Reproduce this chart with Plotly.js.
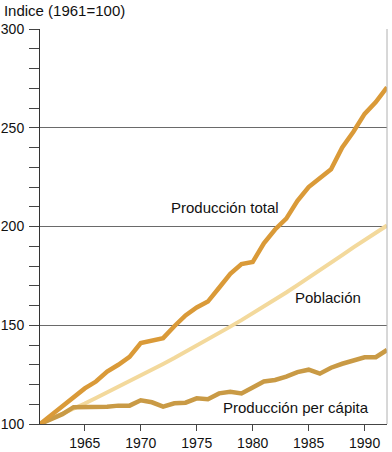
<!DOCTYPE html>
<html>
<head>
<meta charset="utf-8">
<script src="https://cdn.plot.ly/plotly-3.0.1.min.js"></script>
<style>html,body{margin:0;padding:0;background:#fff;}#chart{width:392px;height:452px;}</style>
</head>
<body>
<div id="chart"></div>
<script>
const years = [1961,1962,1963,1964,1965,1966,1967,1968,1969,1970,1971,1972,1973,1974,1975,1976,1977,1978,1979,1980,1981,1982,1983,1984,1985,1986,1987,1988,1989,1990,1991,1992];
const produccionTotal = [100,104.5,109.5,114,118,121.5,126.5,130,134,141,142.5,143.5,149.5,155,159,162,169,176,181,182,191.5,198.5,204,213,220,224.5,229,240,248,257,263,270.5];
const poblacion = [100,102.5,105,107.7,110.4,113.2,116,118.8,121.6,124.5,127.4,130.4,133.4,136.5,139.6,142.8,146,149.3,152.6,156,159.4,163,166.6,170.3,174,177.8,181.6,185.5,189.4,193.3,197.2,200.5];
const produccionPerCapita = [100,102.5,105,108.5,108.5,108.5,108.7,109.3,109.3,112,111,108.8,110.5,110.8,113,112.5,115.5,116.3,115.5,118.5,121.5,122.3,124,126.3,127.5,125.5,128.5,130.5,132.3,133.8,133.8,137.5];
const yTickVals = [100,150,200,250,300];
const xTickVals = [1965,1970,1975,1980,1985,1990];
const labels = ["Producción total","Población","Producción per cápita"];
const titleText = "Indice (1961=100)";

const FONT = "Liberation Sans, Arial, sans-serif";
const traces = [
  {x: years, y: poblacion, type:'scatter', mode:'lines', line:{color:'#F3D99C', width:4}, hoverinfo:'skip'},
  {x: years, y: produccionPerCapita, type:'scatter', mode:'lines', line:{color:'#C99A45', width:4.5}, hoverinfo:'skip'},
  {x: years, y: produccionTotal, type:'scatter', mode:'lines', line:{color:'#DA9A38', width:4.5}, hoverinfo:'skip'}
];
const layout = {
  width:392, height:452,
  margin:{l:40, r:5, t:29, b:28, pad:0},
  paper_bgcolor:'#fff', plot_bgcolor:'#fff',
  showlegend:false,
  font:{family:FONT, size:14, color:'#111'},
  title:{text:titleText, x:0.01, xanchor:'left', xref:'container', y:0.977, yanchor:'middle', yref:'container', font:{family:FONT, size:15, color:'#111'}},
  xaxis:{range:[1961,1992], tickvals:xTickVals, ticktext:xTickVals.map(String), ticks:'outside', ticklen:6, tickcolor:'#444', tickwidth:1,
         showline:true, linecolor:'#444', linewidth:1, showgrid:false, zeroline:false, tickfont:{size:14, color:'#111'}},
  yaxis:{range:[100,300], tickvals:yTickVals, ticktext:yTickVals.map(String), ticks:'outside', ticklen:10, tickcolor:'#444', tickwidth:1,
         minor:{dtick:10, tick0:100, ticks:'outside', ticklen:10, tickcolor:'#444', showgrid:false},
         showline:true, linecolor:'#333', linewidth:1, showgrid:true, gridcolor:'#6a6a6a', gridwidth:1, zeroline:false,
         ticklabelstandoff:2, tickfont:{size:14, color:'#111'}},
  shapes:[{type:'line', xref:'paper', yref:'paper', x0:1, x1:1, y0:0, y1:1, line:{color:'#b0b0b0', width:1}}],
  annotations:[
    {x:1977.5, y:209.8, xref:'x', yref:'y', text:labels[0], showarrow:false, font:{size:15, color:'#111'}},
    {x:1986.7, y:164.3, xref:'x', yref:'y', text:labels[1], showarrow:false, font:{size:15, color:'#111'}},
    {x:1983.9, y:108.3, xref:'x', yref:'y', text:labels[2], showarrow:false, font:{size:15, color:'#111'}}
  ]
};
Plotly.newPlot('chart', traces, layout, {staticPlot:true, displayModeBar:false});
</script>
</body>
</html>
